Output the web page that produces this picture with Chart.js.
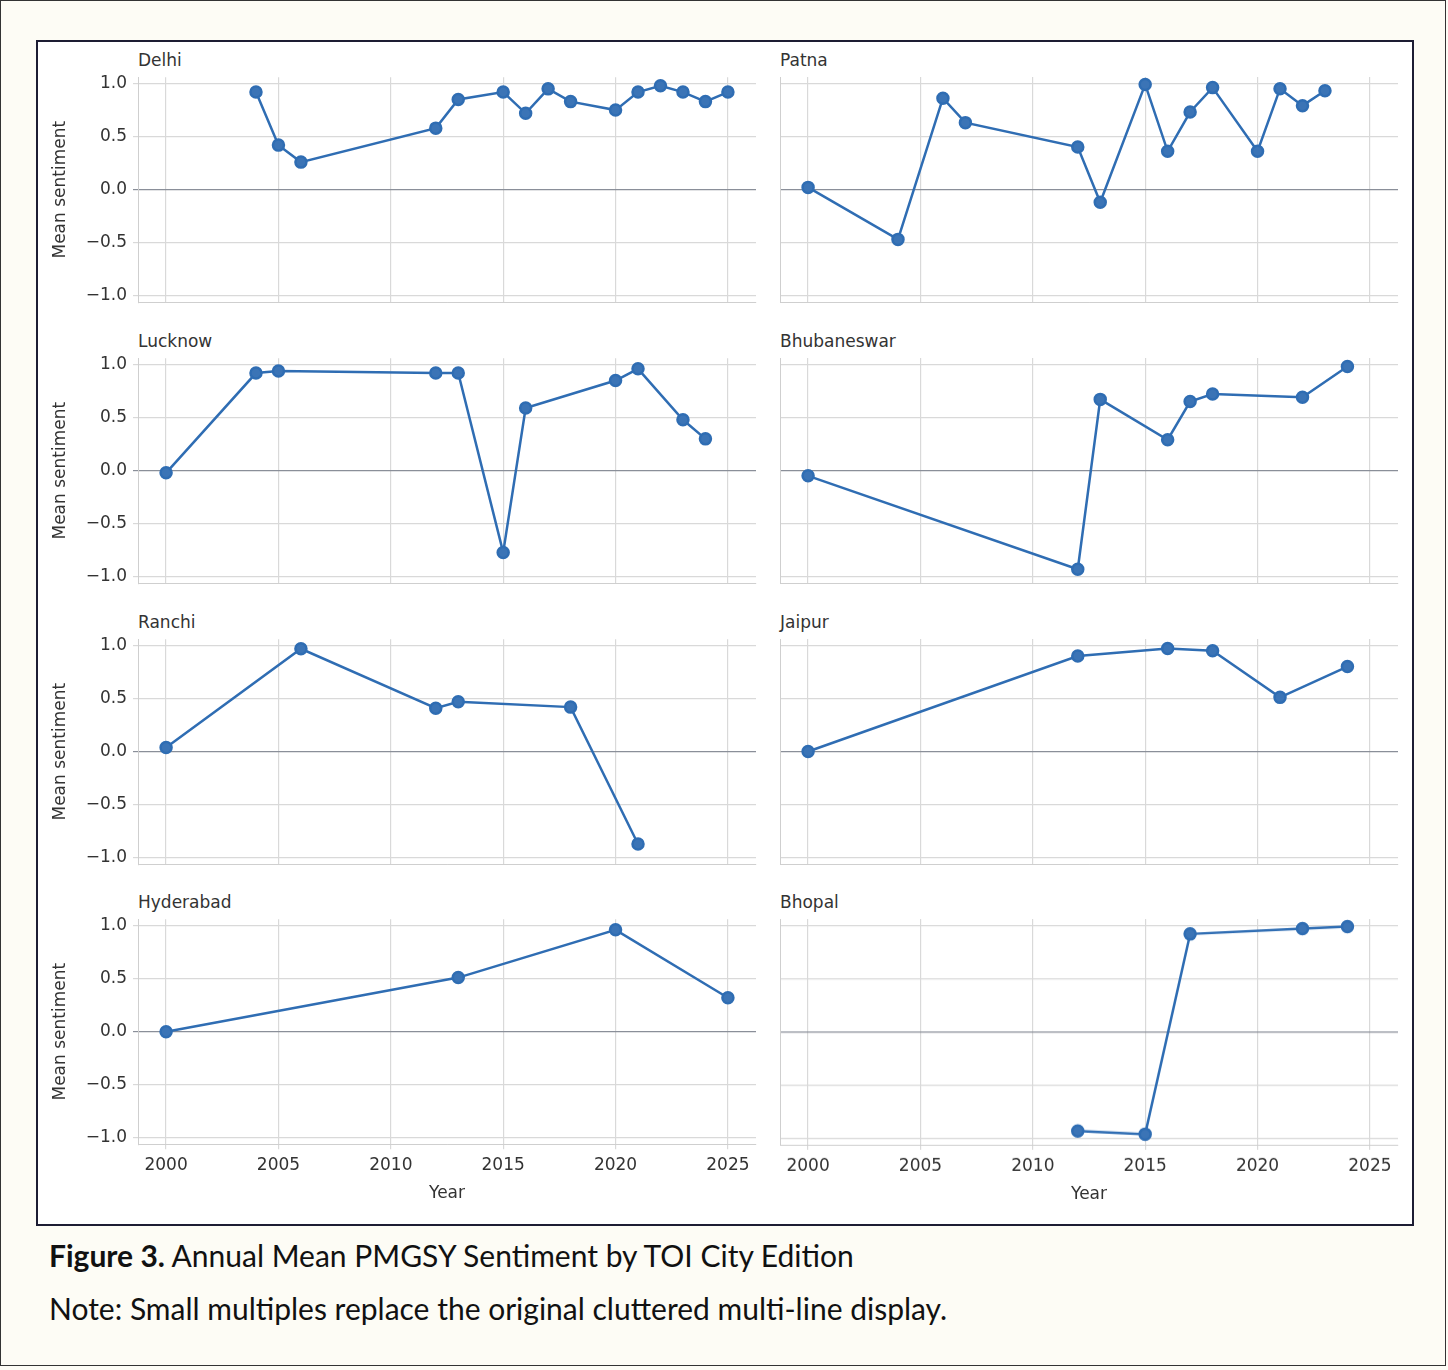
<!DOCTYPE html>
<html lang="en">
<head>
<meta charset="UTF-8">
<title>Annual Mean PMGSY Sentiment by TOI City Edition</title>
<script src="https://cdn.jsdelivr.net/npm/chart.js@4/dist/chart.umd.min.js"></script>
<style>
  body { margin: 0; background: #fdfcf5; }
  #page { position: relative; width: 1446px; height: 1366px; border: 1px solid #333; box-sizing: border-box; background: #fdfcf5; }
  #frame { position: absolute; left: 35px; top: 39px; width: 1378px; height: 1186px; border: 2px solid #1d1d33; box-sizing: border-box; background: #fff; }
  .panel { position: absolute; }
  .city { position: absolute; font: 17px "DejaVu Sans", sans-serif; color: #333; }
  .cap { position: absolute; left: 48px; font: 30px Lato, "Open Sans", sans-serif; color: #111; }
</style>
</head>
<body>
<div id="page">
  <div id="frame"></div>
  <div class="cap" style="top:1236px"><b>Figure 3.</b> Annual Mean PMGSY Sentiment by TOI City Edition</div>
  <div class="cap" style="top:1289px">Note: Small multiples replace the original cluttered multi-line display.</div>
</div>
<script>
// values
var cities = ['Delhi', 'Patna', 'Lucknow', 'Bhubaneswar', 'Ranchi', 'Jaipur', 'Hyderabad', 'Bhopal'];
var delhiYears = [2004, 2005, 2006, 2012, 2013, 2015, 2016, 2017, 2018, 2020, 2021, 2022, 2023, 2024, 2025];
var delhiVals  = [0.92, 0.42, 0.26, 0.58, 0.85, 0.92, 0.72, 0.95, 0.83, 0.75, 0.92, 0.98, 0.92, 0.83, 0.92];
var patnaYears = [2000, 2004, 2006, 2007, 2012, 2013, 2015, 2016, 2017, 2018, 2020, 2021, 2022, 2023];
var patnaVals  = [0.02, -0.47, 0.86, 0.63, 0.40, -0.12, 0.99, 0.36, 0.73, 0.96, 0.36, 0.95, 0.79, 0.93];
var lucknowYears = [2000, 2004, 2005, 2012, 2013, 2015, 2016, 2020, 2021, 2023, 2024];
var lucknowVals  = [-0.02, 0.92, 0.94, 0.92, 0.92, -0.77, 0.59, 0.85, 0.96, 0.48, 0.30];
var bhubaneswarYears = [2000, 2012, 2013, 2016, 2017, 2018, 2022, 2024];
var bhubaneswarVals  = [-0.05, -0.93, 0.67, 0.29, 0.65, 0.72, 0.69, 0.98];
var ranchiYears = [2000, 2006, 2012, 2013, 2018, 2021];
var ranchiVals  = [0.04, 0.97, 0.41, 0.47, 0.42, -0.87];
var jaipurYears = [2000, 2012, 2016, 2018, 2021, 2024];
var jaipurVals  = [0.0, 0.90, 0.97, 0.95, 0.51, 0.80];
var hyderabadYears = [2000, 2013, 2020, 2025];
var hyderabadVals  = [0.0, 0.51, 0.96, 0.32];
var bhopalYears = [2012, 2015, 2017, 2022, 2024];
var bhopalVals  = [-0.93, -0.96, 0.92, 0.97, 0.99];
var xTicks = [2000, 2005, 2010, 2015, 2020, 2025];
var yTicks = [-1, -0.5, 0, 0.5, 1];

var series = [
  [delhiYears, delhiVals], [patnaYears, patnaVals],
  [lucknowYears, lucknowVals], [bhubaneswarYears, bhubaneswarVals],
  [ranchiYears, ranchiVals], [jaipurYears, jaipurVals],
  [hyderabadYears, hyderabadVals], [bhopalYears, bhopalVals]
];

var page = document.getElementById('page');
var rowTops = [76, 357, 638, 918];
var plotH = 225;
var font = { family: 'DejaVu Sans', size: 17 };

cities.forEach(function (name, i) {
  var col = i % 2, row = Math.floor(i / 2);
  var bottom = row === 3;
  // target plot area
  var tl = col === 0 ? 137 : 779;
  var tw = 618;
  var tt = rowTops[row];
  var yAxisW = col === 0 ? 92 : 0;
  var w = tw + yAxisW + 30;
  var h = plotH + (bottom ? 80 : 20);

  var t = document.createElement('div');
  t.className = 'city';
  t.textContent = name;
  t.style.left = tl + 'px';
  t.style.top = (tt - 27) + 'px';
  page.appendChild(t);

  var box = document.createElement('div');
  box.className = 'panel';
  box.style.left = (tl - yAxisW) + 'px';
  box.style.top = tt + 'px';
  box.style.width = w + 'px';
  box.style.height = h + 'px';
  var cv = document.createElement('canvas');
  box.appendChild(cv);
  page.appendChild(box);

  var pts = series[i][0].map(function (x, k) { return { x: x, y: series[i][1][k] }; });

  var chart = new Chart(cv, {
    type: 'line',
    data: { datasets: [{
      data: pts,
      borderColor: '#2f6db3',
      backgroundColor: '#3b74b6',
      borderWidth: 2.5,
      pointRadius: 5.5,
      pointHoverRadius: 5.5,
      clip: false
    }] },
    options: {
      responsive: true,
      maintainAspectRatio: false,
      animation: false,
      layout: { padding: 0 },
      plugins: { legend: { display: false }, tooltip: { enabled: false } },
      scales: {
        x: {
          type: 'linear', min: 1998.75, max: 2026.25,
          afterBuildTicks: function (s) { s.ticks = xTicks.map(function (v) { return { value: v }; }); },
          grid: { color: '#d9d9d9', lineWidth: 1.2, drawTicks: bottom, tickLength: 5 },
          border: { color: '#cfcfcf' },
          ticks: { display: bottom, color: '#333', font: font, padding: 6, maxRotation: 0,
                   callback: function (v) { return String(v); } },
          title: { display: bottom, text: 'Year', color: '#333', font: font, padding: 2 }
        },
        y: {
          min: -1.06, max: 1.06,
          afterBuildTicks: function (s) { s.ticks = yTicks.map(function (v) { return { value: v }; }); },
          afterFit: function (s) { s.width = yAxisW; },
          grid: {
            color: function (c) { return c.tick && c.tick.value === 0 ? '#8a8f99' : '#d9d9d9'; },
            lineWidth: 1.2, drawTicks: col === 0, tickLength: 5
          },
          border: { color: '#cfcfcf' },
          ticks: {
            display: col === 0, color: '#333', font: font, padding: 6,
            callback: function (v) { return (v < 0 ? '\u2212' : '') + Math.abs(v).toFixed(1); }
          },
          title: { display: col === 0, text: 'Mean sentiment', color: '#333', font: font, padding: 4 }
        }
      }
    }
  });

  // shift/resize the canvas so its chart area lands on the target rectangle
  var ca = chart.chartArea;
  var padL = ca.left, padT = ca.top, padR = w - ca.right, padB = h - ca.bottom;
  box.style.left = (tl - padL) + 'px';
  box.style.top = (tt - padT) + 'px';
  box.style.width = (tw + padL + padR) + 'px';
  box.style.height = (plotH + padT + padB) + 'px';
  chart.resize();
});
</script>
</body>
</html>
